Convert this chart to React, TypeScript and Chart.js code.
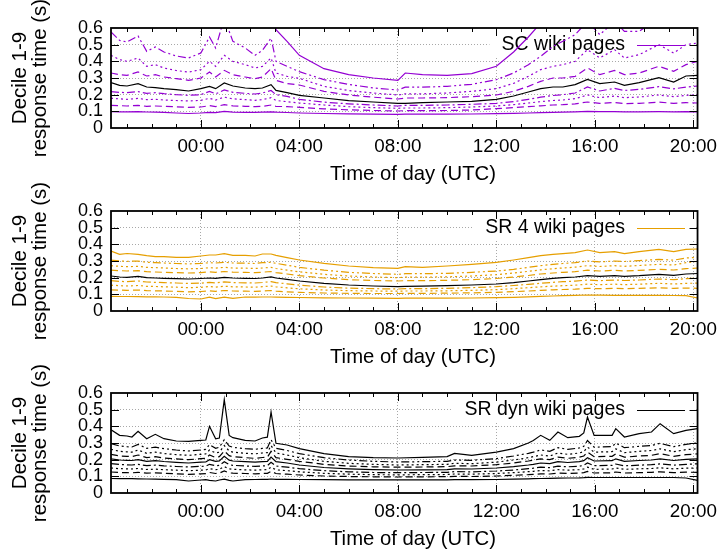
import React, { useEffect, useRef } from 'react';
import { Chart, registerables } from 'chart.js';

Chart.register(...registerables);

// ---------------- data ----------------
// time of day in hours (negative = previous evening)
const TIMES = [-3.65, -3.3, -3.0, -2.55, -2.2, -1.85, -1.5, -1.0, -0.5, 0, 0.35, 0.6, 0.95, 1.3, 1.8, 2.2, 2.5, 2.85, 3.05, 3.5, 4, 5, 6, 7, 8, 8.3, 9, 10, 11, 12, 12.7, 13.3, 13.8, 14.3, 14.7, 15.2, 15.7, 16.2, 16.8, 17.2, 17.8, 18.6, 19.2, 19.7, 20.17];

const scD1 = [.098, .097, .097, .098, .096, .095, .094, .09, .087, .09, .094, .092, .1, .095, .094, .094, .095, .097, .095, .093, .09, .087, .085, .083, .082, .083, .083, .083, .084, .086, .088, .09, .092, .094, .095, .097, .1, .098, .098, .097, .097, .098, .097, .098, .097];
const scD2 = [.136, .134, .132, .136, .13, .132, .13, .127, .124, .126, .134, .128, .14, .133, .13, .128, .13, .138, .13, .128, .124, .115, .109, .105, .102, .104, .104, .105, .108, .116, .122, .128, .133, .138, .14, .145, .156, .148, .153, .146, .148, .155, .148, .152, .15];
const scD3 = [.178, .175, .172, .178, .17, .172, .168, .165, .162, .166, .178, .168, .185, .175, .17, .166, .17, .182, .165, .158, .15, .138, .128, .122, .118, .12, .12, .122, .126, .132, .14, .15, .158, .165, .168, .176, .198, .182, .192, .182, .186, .198, .188, .196, .2];
const scD4 = [.218, .214, .212, .218, .208, .212, .206, .2, .196, .2, .22, .205, .228, .214, .208, .204, .21, .225, .2, .19, .172, .155, .145, .138, .132, .136, .136, .138, .142, .148, .158, .172, .185, .195, .2, .21, .246, .222, .238, .225, .232, .248, .235, .245, .252];
const scD5 = [.272, .256, .252, .266, .246, .242, .236, .23, .222, .236, .25, .236, .27, .252, .24, .236, .24, .26, .226, .212, .196, .18, .164, .156, .148, .148, .152, .156, .16, .172, .192, .216, .236, .246, .246, .26, .292, .266, .276, .256, .272, .302, .276, .312, .316];
const scD6 = [.33, .32, .316, .336, .312, .32, .306, .296, .286, .3, .336, .306, .346, .32, .306, .296, .306, .356, .286, .266, .258, .22, .198, .185, .174, .18, .18, .182, .188, .198, .22, .25, .28, .3, .3, .31, .36, .32, .345, .32, .33, .37, .34, .38, .4];
const scD7 = [.436, .41, .4, .42, .37, .38, .36, .345, .335, .35, .4, .37, .436, .4, .38, .36, .37, .42, .33, .31, .298, .25, .225, .21, .198, .205, .205, .21, .22, .236, .268, .31, .35, .37, .38, .4, .47, .42, .47, .42, .44, .5, .45, .5, .51];
const scD8 = [.576, .526, .516, .552, .46, .486, .456, .432, .42, .45, .546, .48, .66, .52, .48, .436, .466, .54, .4, .37, .338, .29, .262, .24, .228, .245, .245, .25, .262, .29, .33, .38, .43, .49, .52, .56, .64, .56, .64, .58, .58, .66, .6, .64, .6];
const scD9 = [.8, .78, .76, .8, .72, .74, .7, .68, .66, .7, .82, .74, 1.0, .8, .75, .7, .72, .8, .59, .52, .436, .356, .32, .3, .286, .33, .32, .316, .326, .37, .456, .546, .63, .7, .72, .75, .9, .8, .85, .8, .82, .9, .85, .9, .88];

const sr4D1 = [.088, .087, .087, .086, .085, .085, .084, .082, .075, .072, .083, .074, .083, .076, .084, .083, .084, .084, .083, .082, .081, .079, .078, .077, .076, .077, .077, .077, .078, .08, .082, .085, .088, .09, .092, .094, .096, .095, .094, .094, .094, .094, .093, .092, .078];
const sr4D2 = [.127, .125, .124, .126, .122, .121, .12, .118, .115, .117, .121, .118, .123, .12, .119, .118, .12, .123, .119, .115, .112, .108, .106, .105, .105, .106, .106, .107, .109, .112, .116, .12, .124, .127, .129, .131, .136, .134, .136, .134, .136, .139, .136, .138, .136];
const sr4D3 = [.155, .152, .15, .153, .148, .147, .145, .143, .14, .142, .147, .143, .149, .145, .144, .143, .146, .15, .145, .139, .133, .126, .122, .12, .119, .12, .12, .121, .124, .128, .134, .14, .145, .149, .152, .155, .161, .158, .161, .158, .161, .166, .162, .166, .167];
const sr4D4 = [.182, .178, .176, .18, .174, .172, .17, .168, .165, .167, .172, .168, .175, .17, .169, .168, .171, .176, .17, .163, .155, .144, .137, .134, .132, .134, .134, .136, .14, .146, .153, .16, .166, .172, .176, .179, .186, .182, .186, .183, .186, .192, .188, .194, .196];
const sr4D5 = [.21, .204, .202, .208, .2, .198, .196, .194, .192, .195, .198, .196, .202, .198, .196, .195, .198, .205, .198, .19, .18, .166, .156, .15, .146, .148, .149, .152, .156, .162, .17, .18, .188, .196, .2, .204, .212, .208, .212, .208, .212, .22, .214, .222, .225];
const sr4D6 = [.245, .242, .24, .242, .236, .234, .232, .23, .228, .23, .235, .232, .237, .233, .232, .23, .233, .237, .23, .222, .212, .198, .188, .183, .18, .182, .182, .184, .188, .195, .204, .213, .222, .228, .232, .236, .245, .24, .244, .24, .244, .25, .246, .254, .258];
const sr4D7 = [.272, .268, .266, .268, .262, .26, .258, .255, .253, .255, .26, .257, .262, .258, .257, .255, .258, .262, .255, .245, .235, .22, .21, .204, .2, .203, .203, .205, .21, .218, .228, .238, .247, .254, .258, .263, .272, .267, .272, .268, .273, .28, .276, .29, .298];
const sr4D8 = [.305, .3, .298, .3, .292, .29, .288, .285, .283, .285, .29, .288, .292, .288, .287, .285, .29, .292, .286, .275, .262, .245, .232, .225, .22, .224, .224, .226, .232, .24, .25, .262, .272, .28, .285, .29, .3, .295, .3, .297, .302, .31, .305, .318, .322];
const sr4D9 = [.36, .34, .345, .34, .332, .326, .326, .322, .322, .33, .336, .336, .344, .334, .334, .33, .342, .342, .334, .32, .306, .286, .27, .26, .256, .266, .262, .27, .28, .292, .306, .32, .332, .34, .344, .35, .366, .35, .356, .344, .356, .37, .356, .37, .372];

const TIMES_DYN = [-3.65, -3.3, -3.0, -2.8, -2.55, -2.2, -1.85, -1.5, -1.0, -0.5, 0, 0.2, 0.35, 0.6, 0.75, 0.95, 1.15, 1.3, 1.8, 2.2, 2.5, 2.7, 2.85, 3.05, 3.5, 4, 5, 6, 7, 8, 9, 10, 10.3, 11, 12, 12.7, 13.3, 13.5, 13.8, 14.17, 14.5, 14.9, 15.37, 15.55, 15.7, 15.97, 16.7, 16.85, 17.2, 17.8, 18.3, 18.65, 19.2, 19.7, 20.17];

const dynD1 = [.087, .086, .086, .086, .085, .084, .083, .082, .08, .072, .078, .08, .076, .072, .078, .083, .076, .072, .08, .081, .082, .082, .084, .082, .082, .081, .08, .079, .079, .079, .079, .079, .08, .08, .081, .083, .085, .086, .087, .088, .089, .09, .091, .092, .094, .093, .093, .093, .093, .093, .093, .093, .093, .09, .076];
const dynD2 = [.126, .123, .122, .121, .124, .119, .121, .118, .115, .112, .115, .116, .123, .117, .119, .132, .121, .119, .117, .115, .117, .118, .13, .117, .113, .108, .102, .099, .097, .096, .097, .098, .1, .099, .102, .106, .11, .112, .115, .114, .119, .117, .119, .122, .13, .12, .121, .126, .12, .122, .124, .127, .122, .125, .124];
const dynD3 = [.15, .146, .145, .144, .147, .141, .143, .14, .137, .134, .137, .138, .146, .14, .142, .158, .145, .142, .139, .137, .139, .14, .155, .139, .134, .127, .118, .113, .11, .109, .11, .111, .114, .113, .117, .122, .128, .13, .135, .133, .14, .137, .14, .144, .155, .142, .144, .15, .142, .145, .147, .151, .145, .149, .15];
const dynD4 = [.176, .171, .169, .168, .172, .164, .167, .163, .159, .156, .16, .161, .172, .164, .166, .188, .17, .166, .162, .16, .162, .164, .184, .162, .155, .146, .134, .127, .123, .122, .123, .124, .128, .127, .132, .138, .146, .149, .155, .152, .161, .157, .161, .166, .18, .164, .166, .174, .163, .167, .17, .175, .167, .172, .175];
const dynD5 = [.205, .198, .196, .195, .2, .19, .194, .189, .184, .18, .185, .186, .2, .19, .193, .22, .197, .192, .188, .185, .188, .19, .215, .188, .18, .168, .153, .145, .14, .138, .139, .14, .145, .144, .15, .158, .168, .172, .18, .176, .188, .183, .188, .194, .212, .192, .194, .205, .19, .195, .198, .205, .195, .202, .205];
const dynD6 = [.232, .222, .22, .218, .228, .212, .218, .21, .205, .2, .206, .208, .228, .213, .218, .252, .224, .218, .212, .208, .213, .215, .25, .212, .202, .19, .172, .162, .157, .155, .156, .158, .163, .162, .17, .18, .192, .197, .205, .2, .215, .208, .215, .222, .245, .218, .22, .235, .215, .222, .226, .236, .22, .23, .235];
const dynD7 = [.262, .25, .247, .245, .258, .238, .245, .237, .23, .226, .232, .235, .258, .24, .245, .285, .252, .245, .238, .235, .24, .242, .285, .24, .228, .212, .19, .178, .172, .168, .17, .172, .178, .176, .185, .198, .212, .218, .228, .222, .24, .232, .24, .248, .275, .245, .248, .265, .242, .25, .255, .265, .248, .26, .265];
const dynD8 = [.296, .282, .278, .276, .292, .268, .275, .266, .258, .252, .258, .262, .29, .268, .275, .32, .282, .274, .266, .262, .268, .27, .32, .268, .255, .236, .212, .198, .19, .186, .188, .19, .198, .196, .206, .222, .238, .245, .258, .25, .272, .262, .27, .28, .315, .275, .278, .3, .272, .28, .285, .298, .278, .292, .3];
const dynD9 = [.38, .346, .342, .336, .37, .326, .352, .326, .312, .31, .316, .318, .4, .325, .33, .56, .345, .332, .316, .312, .33, .335, .486, .298, .288, .266, .236, .218, .212, .21, .214, .218, .238, .226, .245, .266, .3, .315, .346, .316, .366, .332, .34, .36, .456, .346, .346, .386, .336, .356, .366, .416, .356, .376, .386];

const X_LABEL_HOURS = [0, 4, 8, 12, 16, 20];
const Y_MAX = 0.6;
const X_TITLE = 'Time of day (UTC)';

// ---------------- style ----------------
const FONT = '"Liberation Sans", Arial, Helvetica, sans-serif';
const PURPLE = '#9400D3';
const ORANGE = '#E69F00';
const DASHES = [[], [7, 4], [2, 3], [8, 3, 2, 3], [], [7, 4], [2, 3], [8, 3, 2, 3, 2, 3], []];

const X_MIN = -3.65;
const X_MAX = 20.17;

type Panel = {
  label: string;
  color: string;
  medianColor: string;
  times: number[];
  deciles: number[][];
  top: number;
  bottom: number;
};

const PANELS: Panel[] = [
  { label: 'SC wiki pages', color: PURPLE, medianColor: '#000', times: TIMES, deciles: [scD1, scD2, scD3, scD4, scD5, scD6, scD7, scD8, scD9], top: 28, bottom: 128 },
  { label: 'SR 4 wiki pages', color: ORANGE, medianColor: '#000', times: TIMES, deciles: [sr4D1, sr4D2, sr4D3, sr4D4, sr4D5, sr4D6, sr4D7, sr4D8, sr4D9], top: 211, bottom: 311 },
  { label: 'SR dyn wiki pages', color: '#000', medianColor: '#000', times: TIMES_DYN, deciles: [dynD1, dynD2, dynD3, dynD4, dynD5, dynD6, dynD7, dynD8, dynD9], top: 393, bottom: 493 },
];

const W = 725;
const H = 553;
const X_AXIS_H = 60;

const hh = (v: number) => {
  const h = ((Math.round(v) % 24) + 24) % 24;
  return (h < 10 ? '0' : '') + h + ':00';
};

const keyPlugin = {
  id: 'keyBox',
  beforeDatasetsDraw(chart: any) {
    const o = chart.options.plugins.keyBox;
    if (!o) return;
    const { ctx, chartArea } = chart;
    const y = chartArea.top + 17;
    const textRight = 625;
    ctx.save();
    ctx.font = `19.5px ${FONT}`;
    const tw = ctx.measureText(o.label).width;
    ctx.fillStyle = '#fff';
    ctx.fillRect(textRight - tw - 12, y - 11, 695 - (textRight - tw - 12), 22);
    ctx.fillStyle = '#000';
    ctx.textAlign = 'right';
    ctx.textBaseline = 'middle';
    ctx.fillText(o.label, textRight, y);
    ctx.strokeStyle = o.color;
    ctx.lineWidth = 1.2;
    ctx.beginPath();
    ctx.moveTo(637, y + 0.5);
    ctx.lineTo(685, y + 0.5);
    ctx.stroke();
    ctx.restore();
  },
};

const framePlugin = {
  id: 'gnuFrame',
  afterDraw(chart: any) {
    const { ctx, chartArea } = chart;
    const { left, right, top, bottom } = chartArea;
    const xs = chart.scales.x;
    const ys = chart.scales.y;
    ctx.save();
    ctx.strokeStyle = '#000';
    ctx.lineWidth = 1;
    ctx.beginPath();
    for (let h = Math.ceil(X_MIN); h <= X_MAX; h++) {
      const px = Math.round(xs.getPixelForValue(h)) + 0.5;
      const len = h % 4 === 0 ? 8 : 4;
      ctx.moveTo(px, bottom);
      ctx.lineTo(px, bottom - len);
      ctx.moveTo(px, top);
      ctx.lineTo(px, top + len);
    }
    for (let i = 1; i < 6; i++) {
      const py = Math.round(ys.getPixelForValue(i / 10)) + 0.5;
      ctx.moveTo(left, py);
      ctx.lineTo(left + 8, py);
      ctx.moveTo(right, py);
      ctx.lineTo(right - 8, py);
    }
    ctx.stroke();
    ctx.lineWidth = 1.8;
    ctx.strokeRect(left, top, right - left, bottom - top);
    // x-axis title (gnuplot places it slightly right of the plot centre)
    ctx.fillStyle = '#000';
    ctx.font = `20.3px ${FONT}`;
    ctx.textAlign = 'center';
    ctx.textBaseline = 'middle';
    ctx.fillText(X_TITLE, 413, bottom + 46);
    ctx.restore();
  },
};

function buildConfig(p: Panel): any {
  const datasets = p.deciles.map((vals, i) => ({
    label: `D${i + 1}`,
    data: vals.map((v, j) => ({ x: p.times[j], y: v })),
    borderColor: i === 4 ? p.medianColor : p.color,
    borderWidth: 1.2,
    borderDash: DASHES[i],
    pointRadius: 0,
    tension: 0,
    fill: false,
  }));
  return {
    type: 'line',
    data: { datasets },
    options: {
      animation: false,
      responsive: false,
      maintainAspectRatio: false,
      events: [],
      layout: { padding: { top: p.top, right: W - 705, bottom: H - p.bottom - X_AXIS_H, left: 0 } },
      plugins: {
        legend: { display: false },
        tooltip: { enabled: false },
        keyBox: { label: p.label, color: p.color },
      },
      scales: {
        x: {
          type: 'linear',
          min: X_MIN,
          max: X_MAX,
          afterBuildTicks: (s: any) => {
            s.ticks = X_LABEL_HOURS.map((v) => ({ value: v }));
          },
          afterFit: (s: any) => {
            s.height = X_AXIS_H;
          },
          grid: { color: '#a8a8a8', lineWidth: 1, drawTicks: false },
          border: { display: false, dash: [1, 2] },
          ticks: {
            color: '#000',
            padding: 8,
            maxRotation: 0,
            autoSkip: false,
            font: { family: FONT, size: 18.8 },
            callback: (v: any) => hh(Number(v)),
          },
          title: { display: false },
        },
        y: {
          type: 'linear',
          min: 0,
          max: Y_MAX,
          afterFit: (s: any) => {
            s.width = 111;
          },
          ticks: {
            stepSize: 0.1,
            autoSkip: false,
            color: '#000',
            padding: 8,
            font: { family: FONT, size: 18, lineHeight: 0.9 },
            callback: (v: any) => (Number(v) === 0 ? '0' : Number(v).toFixed(1)),
          },
          grid: {
            color: (c: any) => (c.tick && (c.tick.value <= 0.001 || c.tick.value >= 0.599) ? 'rgba(0,0,0,0)' : '#a8a8a8'),
            lineWidth: 1,
            drawTicks: false,
          },
          border: { display: false, dash: [1, 2] },
          title: {
            display: true,
            text: ['Decile 1-9', 'response time (s)'],
            color: '#000',
            font: { family: FONT, size: 20.5, lineHeight: 1.0 },
            padding: { top: 10, bottom: 0 },
          },
        },
      },
    },
    plugins: [keyPlugin, framePlugin],
  };
}

function PanelCanvas({ panel }: { panel: Panel }) {
  const ref = useRef<HTMLCanvasElement | null>(null);
  useEffect(() => {
    if (!ref.current) return;
    const chart = new Chart(ref.current, buildConfig(panel));
    return () => chart.destroy();
  }, [panel]);
  return (
    <canvas
      ref={ref}
      width={W}
      height={H}
      style={{ position: 'absolute', left: 0, top: 0, width: W, height: H }}
    />
  );
}

export default function App() {
  return (
    <div style={{ position: 'absolute', left: 0, top: 0, width: W, height: H, background: '#fff' }}>
      {PANELS.map((p) => (
        <PanelCanvas key={p.label} panel={p} />
      ))}
    </div>
  );
}
